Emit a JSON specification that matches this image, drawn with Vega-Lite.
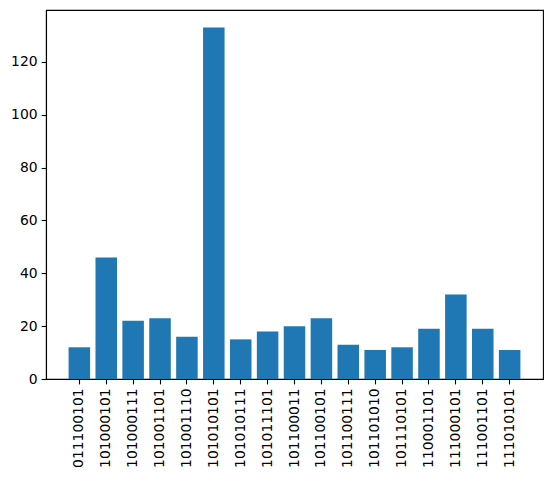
{
  "$schema": "https://vega.github.io/schema/vega-lite/v6.json",
  "width": 497,
  "height": 369,
  "autosize": {"type": "none"},
  "padding": {"left": 46, "top": 10, "right": 9, "bottom": 99},
  "background": "white",
  "config": {
    "font": "DejaVu Sans",
    "view": {"stroke": "black", "strokeWidth": 1.1},
    "axis": {
      "domainColor": "black",
      "domainWidth": 1.1,
      "tickColor": "black",
      "tickSize": 4.9,
      "tickWidth": 1.1,
      "labelFont": "DejaVu Sans",
      "labelFontSize": 13.9,
      "labelColor": "black",
      "grid": false,
      "title": null
    }
  },
  "data": {
    "values": [
      {"code": "011100101", "count": 12},
      {"code": "101000101", "count": 46},
      {"code": "101000111", "count": 22},
      {"code": "101001101", "count": 23},
      {"code": "101001110", "count": 16},
      {"code": "101010101", "count": 133},
      {"code": "101010111", "count": 15},
      {"code": "101011101", "count": 18},
      {"code": "101100011", "count": 20},
      {"code": "101100101", "count": 23},
      {"code": "101100111", "count": 13},
      {"code": "101101010", "count": 11},
      {"code": "101110101", "count": 12},
      {"code": "110001101", "count": 19},
      {"code": "111000101", "count": 32},
      {"code": "111001101", "count": 19},
      {"code": "111010101", "count": 11}
    ]
  },
  "mark": {"type": "bar", "color": "#1f77b4"},
  "encoding": {
    "x": {
      "field": "code",
      "type": "nominal",
      "sort": null,
      "scale": {"paddingInner": 0.2, "paddingOuter": 0.84},
      "axis": {"labelAngle": -90, "labelAlign": "right", "labelBaseline": "middle", "labelPadding": 4}
    },
    "y": {
      "field": "count",
      "type": "quantitative",
      "scale": {"domain": [0, 139.65], "nice": false, "zero": true},
      "axis": {"values": [0, 20, 40, 60, 80, 100, 120], "labelPadding": 4}
    }
  }
}
